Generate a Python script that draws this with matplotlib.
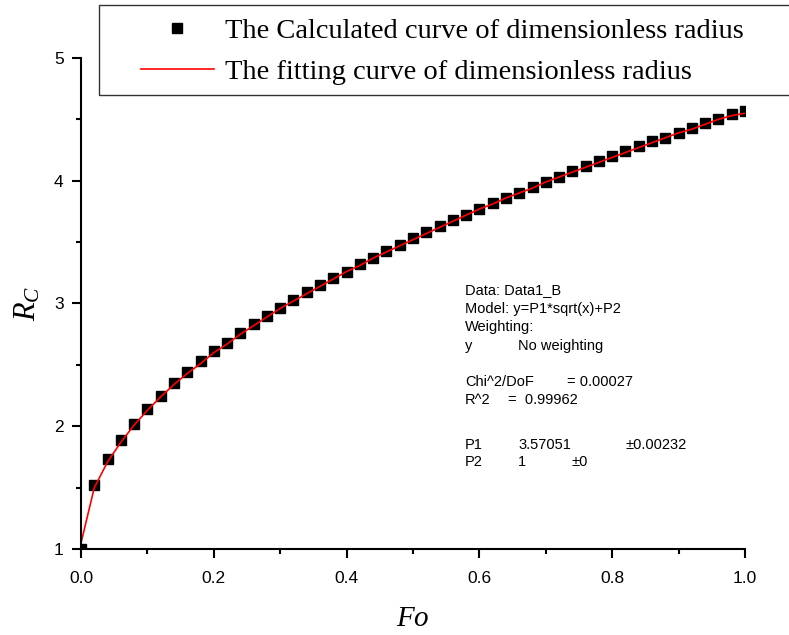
import matplotlib
matplotlib.use("Agg")
import matplotlib.pyplot as plt
from matplotlib.patches import Rectangle
from matplotlib.ticker import MultipleLocator, FormatStrFormatter

plt.rcParams['font.family'] = ['Liberation Sans', 'DejaVu Sans']
plt.rcParams['mathtext.fontset'] = 'custom'
plt.rcParams['mathtext.rm'] = 'Liberation Serif'
plt.rcParams['mathtext.it'] = 'Liberation Serif:italic'

# dimensionless time Fo
fo = [0.00, 0.02, 0.04, 0.06, 0.08, 0.10, 0.12, 0.14, 0.16, 0.18,
      0.20, 0.22, 0.24, 0.26, 0.28, 0.30, 0.32, 0.34, 0.36, 0.38,
      0.40, 0.42, 0.44, 0.46, 0.48, 0.50, 0.52, 0.54, 0.56, 0.58,
      0.60, 0.62, 0.64, 0.66, 0.68, 0.70, 0.72, 0.74, 0.76, 0.78,
      0.80, 0.82, 0.84, 0.86, 0.88, 0.90, 0.92, 0.94, 0.96, 0.98, 1.00]

# calculated dimensionless radius
rc_calc = [1.00, 1.52, 1.73, 1.89, 2.02, 2.14, 2.25, 2.35, 2.44, 2.53,
           2.61, 2.68, 2.76, 2.83, 2.90, 2.96, 3.03, 3.09, 3.15, 3.21,
           3.26, 3.32, 3.37, 3.43, 3.48, 3.53, 3.58, 3.63, 3.68, 3.72,
           3.77, 3.82, 3.86, 3.90, 3.95, 3.99, 4.03, 4.08, 4.12, 4.16,
           4.20, 4.24, 4.28, 4.32, 4.35, 4.39, 4.43, 4.47, 4.50, 4.54, 4.57]

# fitted curve
rc_fit = [1.05, 1.50, 1.71, 1.87, 2.01, 2.13, 2.24, 2.34, 2.43, 2.51,
          2.60, 2.67, 2.75, 2.82, 2.89, 2.96, 3.02, 3.08, 3.14, 3.20,
          3.26, 3.31, 3.37, 3.42, 3.47, 3.52, 3.57, 3.62, 3.67, 3.72,
          3.77, 3.81, 3.86, 3.90, 3.94, 3.99, 4.03, 4.07, 4.11, 4.15,
          4.19, 4.23, 4.27, 4.31, 4.35, 4.39, 4.42, 4.46, 4.50, 4.53, 4.55]

fig = plt.figure(figsize=(7.89, 6.35), dpi=100)
ax = fig.add_axes([0.1027, 0.1354, 0.8415, 0.7733])

pts, = ax.plot(fo, rc_calc, 's', color='black', ms=7.5, mec='black')
fit, = ax.plot(fo, rc_fit, '-', color='red', lw=1.2)

ax.set_xlim(0, 1)
ax.set_ylim(1, 5)
ax.xaxis.set_major_locator(MultipleLocator(0.2))
ax.xaxis.set_minor_locator(MultipleLocator(0.1))
ax.yaxis.set_major_locator(MultipleLocator(1))
ax.yaxis.set_minor_locator(MultipleLocator(0.5))
ax.xaxis.set_major_formatter(FormatStrFormatter('%.1f'))
ax.yaxis.set_major_formatter(FormatStrFormatter('%d'))

for s in ['top', 'right']:
    ax.spines[s].set_visible(False)
for s in ['left', 'bottom']:
    ax.spines[s].set_linewidth(1.5)
ax.tick_params(which='major', direction='out', length=6.5, width=1.5, labelsize=12.5)
ax.tick_params(axis='x', which='major', pad=9)
ax.tick_params(axis='y', which='major', pad=6)
ax.tick_params(which='minor', direction='out', length=3.5, width=1.5)

ax.set_xlabel('$Fo$', fontsize=21, labelpad=13)
ax.set_ylabel('$R_C$', fontsize=22, labelpad=8)

# legend with a wide frame running off the right edge
fig.patches.append(Rectangle((99 / 789, 1 - 95 / 635), 0.89, 90 / 635,
                             transform=fig.transFigure, fill=False,
                             edgecolor='#333333', lw=1.0))
fig.legend([pts, fit],
           ['The Calculated curve of dimensionless radius',
            'The fitting curve of dimensionless radius'],
           loc='center left', bbox_to_anchor=(141 / 789, 1 - 51.5 / 635),
           frameon=False, borderpad=0, borderaxespad=0,
           prop={'family': 'Liberation Serif', 'size': 20.5},
           handlelength=2.55, handletextpad=0.4, labelspacing=0.55,
           markerscale=1.0)

# fit report
fs = 10.5
lines = [
    (465, 290, 'Data: Data1_B'),
    (465, 309, 'Model: y=P1*sqrt(x)+P2'),
    (465, 327, 'Weighting:'),
    (465, 346, 'y'),
    (518, 346, 'No weighting'),
    (465, 382, 'Chi^2/DoF'),
    (567, 382, '= 0.00027'),
    (465, 400, 'R^2'),
    (508, 400, '=  0.99962'),
    (465, 445, 'P1'),
    (518, 445, '3.57051'),
    (625, 445, '\u00b10.00232'),
    (465, 462, 'P2'),
    (518, 462, '1'),
    (572, 462, '\u00b10'),
]
for x, y, t in lines:
    fig.text(x / 789, 1 - y / 635, t, fontsize=fs, va='center', ha='left')

fig.savefig('out.png', dpi=100)
